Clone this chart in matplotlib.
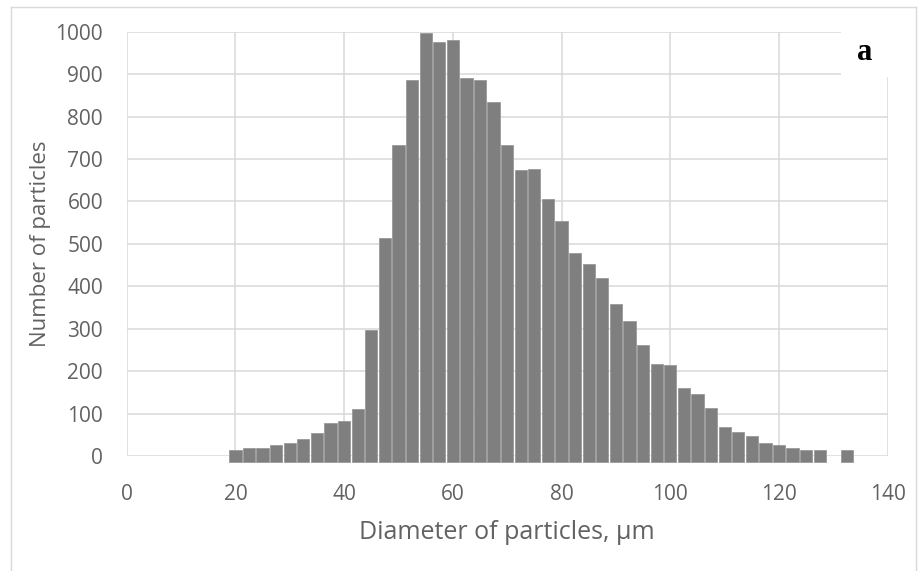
import matplotlib
matplotlib.use('Agg')
import matplotlib.pyplot as plt
from matplotlib.patches import Rectangle
from matplotlib.lines import Line2D

# bin centres (um) and counts
diameter = [20, 22.5, 25, 27.5, 30, 32.5, 35, 37.5, 40, 42.5,
            45, 47.5, 50, 52.5, 55, 57.5, 60, 62.5, 65, 67.5,
            70, 72.5, 75, 77.5, 80, 82.5, 85, 87.5, 90, 92.5,
            95, 97.5, 100, 102.5, 105, 107.5, 110, 112.5, 115, 117.5,
            120, 122.5, 125, 127.5, 130, 132.5]
counts = [14, 18, 18, 27, 31, 40, 55, 78, 82, 110,
          297, 514, 734, 885, 998, 975, 981, 892, 886, 834,
          734, 674, 677, 605, 553, 479, 452, 420, 359, 318,
          261, 218, 214, 160, 146, 112, 68, 57, 48, 31,
          27, 20, 15, 15, 0, 15]

x_ticks = [0, 20, 40, 60, 80, 100, 120, 140]
y_ticks = [0, 100, 200, 300, 400, 500, 600, 700, 800, 900, 1000]

plt.rcParams['font.family'] = ['Open Sans', 'DejaVu Sans']
grey_txt = '#626262'
grid_col = '#d9d9d9'

fig = plt.figure(figsize=(9.19, 5.71), dpi=100)
ax = fig.add_axes([126.7 / 919, 1 - 456 / 571, (887.7 - 126.7) / 919, (456 - 31.7) / 571])

# bars hang a little below the zero line in the original
drop = 14
xs = [d for d, c in zip(diameter, counts) if c > 0]
hs = [c + drop for c in counts if c > 0]
ax.bar(xs, hs, bottom=-drop, width=2.25,
       color='#7f7f7f', edgecolor='#9a9a9a', linewidth=0.6, zorder=3, clip_on=False)

ax.set_xlim(0, 140)
ax.set_ylim(0, 1000)
ax.set_xticks(x_ticks)
ax.set_yticks(y_ticks)
ax.grid(True, color=grid_col, linewidth=1.1, zorder=0)
ax.set_axisbelow(True)
for s in ax.spines.values():
    s.set_visible(False)
ax.tick_params(length=0, labelsize=15, colors=grey_txt)
ax.tick_params(axis='x', pad=20)
ax.tick_params(axis='y', pad=17)

ax.set_xlabel('Diameter of particles, µm', fontsize=18, color=grey_txt, labelpad=11)
ax.set_ylabel('Number of particles', fontsize=16, color=grey_txt, labelpad=3)

# white box behind the panel letter
fig.patches.append(Rectangle((840.7 / 919, 1 - 76.7 / 571), 50 / 919, 48 / 571,
                             transform=fig.transFigure, facecolor='white', edgecolor='none', zorder=5))
fig.text(865 / 919, 1 - 52 / 571, 'a', fontsize=22, fontweight='bold', family='Liberation Serif',
         ha='center', va='center', zorder=6)

# outer frame of the chart
fig.lines.append(Line2D([11 / 919, 11 / 919], [0, 1 - 7 / 571], transform=fig.transFigure, color=grid_col, lw=1))
fig.lines.append(Line2D([11 / 919, 916 / 919], [1 - 7 / 571, 1 - 7 / 571], transform=fig.transFigure, color=grid_col, lw=1))
fig.lines.append(Line2D([916 / 919, 916 / 919], [0, 1 - 7 / 571], transform=fig.transFigure, color=grid_col, lw=1))

fig.savefig('out.png', dpi=100)
